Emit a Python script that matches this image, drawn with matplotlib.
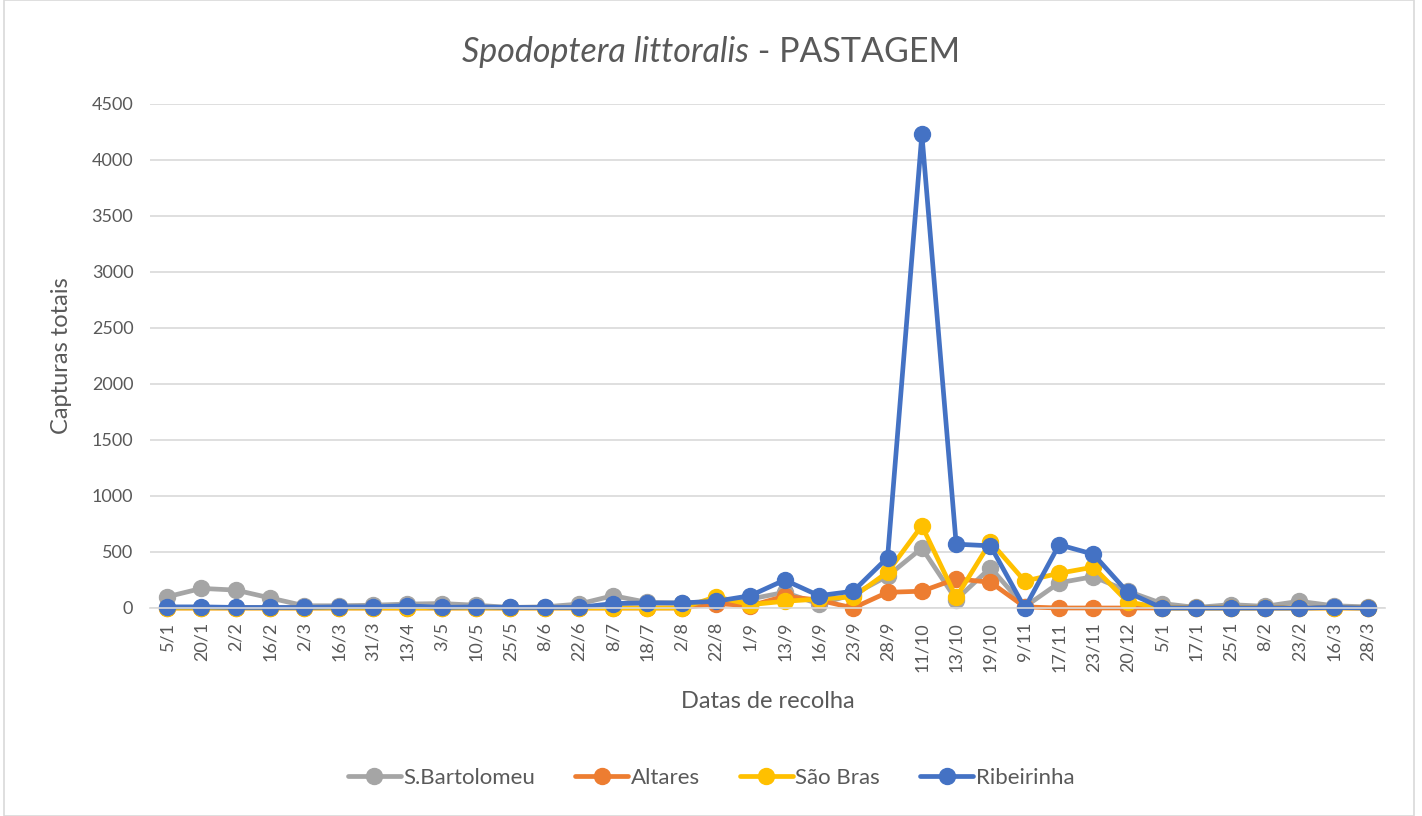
import matplotlib.pyplot as plt
from matplotlib.patches import Rectangle

# Datas de recolha
datas = ['5/1', '20/1', '2/2', '16/2', '2/3', '16/3', '31/3', '13/4', '3/5', '10/5',
         '25/5', '8/6', '22/6', '8/7', '18/7', '2/8', '22/8', '1/9', '13/9', '16/9',
         '23/9', '28/9', '11/10', '13/10', '19/10', '9/11', '17/11', '23/11', '20/12',
         '5/1', '17/1', '25/1', '8/2', '23/2', '16/3', '28/3']

s_bartolomeu = [100, 175, 160, 90, 20, 20, 25, 35, 40, 25,
                5, 10, 35, 110, 50, 45, 60, 80, 140, 35,
                120, 285, 535, 75, 360, 10, 225, 280, 150,
                40, 5, 30, 15, 60, 20, 10]
altares = [0, 0, 0, 0, 0, 0, 0, 0, 0, 0,
           0, 0, 0, 0, 0, 0, 40, 20, 105, 70,
           0, 140, 150, 260, 230, 10, 0, 0, 0,
           0, 0, 0, 0, 0, 0, 0]
sao_bras = [0, 0, 0, 0, 0, 0, 0, 0, 0, 0,
            0, 0, 0, 0, 0, 0, 100, 30, 60, 80,
            100, 320, 735, 95, 590, 240, 310, 365, 55,
            0, 0, 0, 0, 0, 0, 0]
ribeirinha = [10, 10, 5, 5, 5, 10, 10, 20, 5, 10,
              5, 5, 5, 40, 45, 45, 60, 110, 250, 110,
              150, 450, 4230, 570, 555, 0, 565, 480, 140,
              0, 0, 0, 0, 0, 5, 0]

series = [
    ('S.Bartolomeu', s_bartolomeu, '#a5a5a5'),
    ('Altares', altares, '#ed7d31'),
    ('São Bras', sao_bras, '#ffc000'),
    ('Ribeirinha', ribeirinha, '#4472c4'),
]

plt.rcParams['font.family'] = ['Lato', 'DejaVu Sans']
texto = '#595959'

fig = plt.figure(figsize=(14.22, 8.16), dpi=100)
ax = fig.add_axes([150 / 1422, 1 - 608 / 816, 1235 / 1422, 504 / 816])

x = list(range(len(datas)))
for nome, valores, cor in series:
    ax.plot(x, valores, color=cor, lw=3.4, marker='o', markersize=11.5,
            label=nome, solid_joinstyle='round', solid_capstyle='round', clip_on=False)

ax.set_xlim(-0.5, len(datas) - 0.5)
ax.set_ylim(0, 4500)
ax.set_yticks(range(0, 4501, 500))
ax.set_xticks(x)
ax.set_xticklabels(datas, rotation=90, fontsize=13, color=texto)
ax.tick_params(axis='y', labelsize=13, labelcolor=texto, length=0, pad=12)
ax.tick_params(axis='x', length=0, pad=10)
ax.grid(axis='y', color='#d9d9d9', lw=1.2)
ax.set_axisbelow(True)
for lado in ['top', 'right', 'left']:
    ax.spines[lado].set_visible(False)
ax.spines['bottom'].set_color('#d9d9d9')
ax.spines['bottom'].set_linewidth(1.2)

ax.set_ylabel('Capturas totais', fontsize=17, color=texto, labelpad=14)
ax.set_xlabel('Datas de recolha', fontsize=17, color=texto, labelpad=14)

# Título: parte em itálico + parte normal, centrado
t1 = fig.text(0.0, 0.0, 'Spodoptera littoralis', fontsize=24.5, color=texto, style='italic')
t2 = fig.text(0.0, 0.0, ' - PASTAGEM', fontsize=24.5, color=texto)
fig.canvas.draw()
r = fig.canvas.get_renderer()
w1 = t1.get_window_extent(r).width
w2 = t2.get_window_extent(r).width
x0 = (1422 - w1 - w2) / 2
t1.set_position((x0 / 1422, 1 - 62 / 816))
t2.set_position(((x0 + w1) / 1422, 1 - 62 / 816))

ax.legend(loc='center', bbox_to_anchor=(0.5, 1 - 778 / 816), bbox_transform=fig.transFigure,
          ncol=4, frameon=False, fontsize=16, labelcolor=texto, handlelength=2.4,
          columnspacing=1.8, handletextpad=0.1)

fig.patches.append(Rectangle((4 / 1422, 0), 1410 / 1422, 1, transform=fig.transFigure,
                             fill=False, edgecolor='#d9d9d9', lw=1.2))

fig.savefig('out.png', dpi=100)
